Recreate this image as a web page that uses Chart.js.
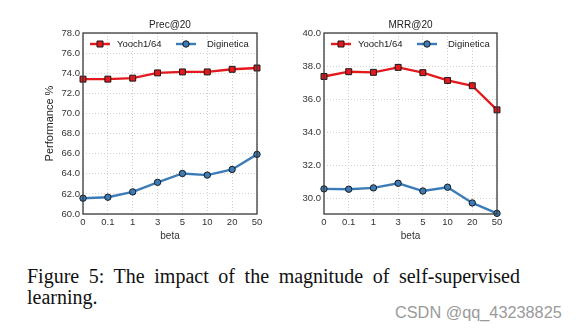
<!DOCTYPE html>
<html>
<head>
<meta charset="utf-8">
<script src="https://cdn.jsdelivr.net/npm/chart.js@4/dist/chart.umd.min.js"></script>
<style>
  body { margin:0; background:#fff; }
  #page { position:relative; width:580px; height:330px; overflow:hidden; background:#fff; }
  canvas { position:absolute; top:0; }
  #precChart { left:0; }
  #mrrChart { left:270px; }
  .cap { position:absolute; font-family:'Liberation Serif','Times New Roman',serif; font-size:20px; line-height:20px; color:#111; white-space:nowrap; }
  #cap1 { left:27px; top:266px; width:493px; text-align:justify; text-align-last:justify; white-space:normal; }
  #cap2 { left:27px; top:287px; }
  #mark { position:absolute; left:395px; top:304px; font-family:'Liberation Sans',Arial,sans-serif; font-size:16.3px; line-height:16px; color:#9a9a9a; }
</style>
</head>
<body>
<div id="page">
  <canvas id="precChart" width="270" height="250"></canvas>
  <canvas id="mrrChart" width="240" height="250"></canvas>
  <div class="cap" id="cap1">Figure 5: The impact of the magnitude of self-supervised</div>
  <div class="cap" id="cap2">learning.</div>
  <div id="mark">CSDN @qq_43238825</div>
</div>
<script>
const betaLabels = ['0','0.1','1','3','5','10','20','50'];
const seriesNames = ['Yooch1/64','Diginetica'];
// Prec@20
const precYoo = [73.41, 73.41, 73.51, 74.03, 74.13, 74.13, 74.39, 74.52];
const precDig = [61.57, 61.67, 62.2, 63.15, 64.03, 63.87, 64.43, 65.93];
// MRR@20
const mrrYoo = [37.37, 37.66, 37.62, 37.92, 37.6, 37.13, 36.81, 35.35];
const mrrDig = [30.57, 30.55, 30.63, 30.91, 30.44, 30.67, 29.72, 29.09];

const RED = '#e3191e', BLUE = '#3b7cb8', EDGE = '#1a1a1a';
const FONT = "'Liberation Sans', Arial, sans-serif";
const $ = id => document.getElementById(id);

// legend drawn inside the plot, top-left (line + marker + text)
const innerLegend = {
  id:'innerLegend',
  afterDraw(c){
    const {ctx, chartArea:a} = c;
    const offs = [[7,34],[93,124]];
    ctx.save();
    c.data.datasets.forEach((ds,i)=>{
      const x0 = a.left + offs[i][0], y = a.top + 11;
      ctx.strokeStyle = ds.borderColor; ctx.lineWidth = 2.4;
      ctx.beginPath(); ctx.moveTo(x0,y); ctx.lineTo(x0+20,y); ctx.stroke();
      ctx.fillStyle = ds.pointBackgroundColor; ctx.strokeStyle = EDGE; ctx.lineWidth = 1;
      if(ds.pointStyle==='rect'){ ctx.beginPath(); ctx.rect(x0+7,y-3,6,6); ctx.fill(); ctx.stroke(); }
      else { ctx.beginPath(); ctx.arc(x0+10,y,3.2,0,Math.PI*2); ctx.fill(); ctx.stroke(); }
      ctx.fillStyle = '#222'; ctx.font = '9.5px ' + FONT; ctx.textBaseline = 'middle';
      ctx.fillText(ds.label, a.left + offs[i][1], y+0.5);
    });
    ctx.restore();
  }
};
// full box around the plot area
const frame = {
  id:'frame',
  afterDraw(c){
    const {ctx, chartArea:a} = c;
    ctx.save(); ctx.strokeStyle = '#3a3a3a'; ctx.lineWidth = 1.3;
    ctx.strokeRect(a.left, a.top, a.right-a.left, a.bottom-a.top);
    ctx.restore();
  }
};

function makeChart(id, title, yoo, dig, ymin, ymax, yWidth, yTitle){
  return new Chart($(id), {
    type:'line',
    data:{
      labels: betaLabels,
      datasets:[
        {label:seriesNames[0], data:yoo, borderColor:RED, backgroundColor:RED, borderWidth:2.4, pointStyle:'rect', pointRadius:4.2, pointBackgroundColor:RED, pointBorderColor:EDGE, pointBorderWidth:1, tension:0},
        {label:seriesNames[1], data:dig, borderColor:BLUE, backgroundColor:BLUE, borderWidth:2.4, pointStyle:'circle', pointRadius:3.2, pointBackgroundColor:BLUE, pointBorderColor:EDGE, pointBorderWidth:1, tension:0}
      ]
    },
    options:{
      responsive:false, animation:false, clip:false,
      layout:{padding:{left:0, right:13, top:0, bottom:0}},
      plugins:{
        legend:{display:false}, tooltip:{enabled:false},
        title:{display:true, fullSize:false, text:title, color:'#222', font:{family:FONT, size:10, weight:'normal'}, padding:{top:19, bottom:2}}
      },
      scales:{
        x:{
          type:'category', offset:false,
          grid:{color:'#cfcfcf', drawTicks:false}, border:{display:false, dash:[1,2]},
          ticks:{color:'#333', font:{family:FONT, size:9.5}, padding:3, maxRotation:0},
          title:{display:true, text:'beta', color:'#333', font:{family:FONT, size:10}, padding:{top:0, bottom:8}},
          afterFit(s){ s.height = 36; }
        },
        y:{
          min:ymin, max:ymax,
          grid:{color:'#cfcfcf', drawTicks:false}, border:{display:false, dash:[1,2]},
          ticks:{stepSize:2, color:'#333', font:{family:FONT, size:9.5}, padding:3, callback:v=>v.toFixed(1)},
          afterBuildTicks(s){ s.ticks = s.ticks.filter(t=>Math.abs(t.value/2-Math.round(t.value/2))<1e-6); },
          title:{display:!!yTitle, text:yTitle||'', color:'#222', font:{family:FONT, size:11}, padding:{top:43, bottom:0}},
          afterFit(s){ s.width = yWidth; }
        }
      }
    },
    plugins:[frame, innerLegend]
  });
}

makeChart('precChart', 'Prec@20', precYoo, precDig, 60, 78, 83, 'Performance %');
makeChart('mrrChart', 'MRR@20', mrrYoo, mrrDig, 29.05, 40, 54, null);
</script>
</body>
</html>
